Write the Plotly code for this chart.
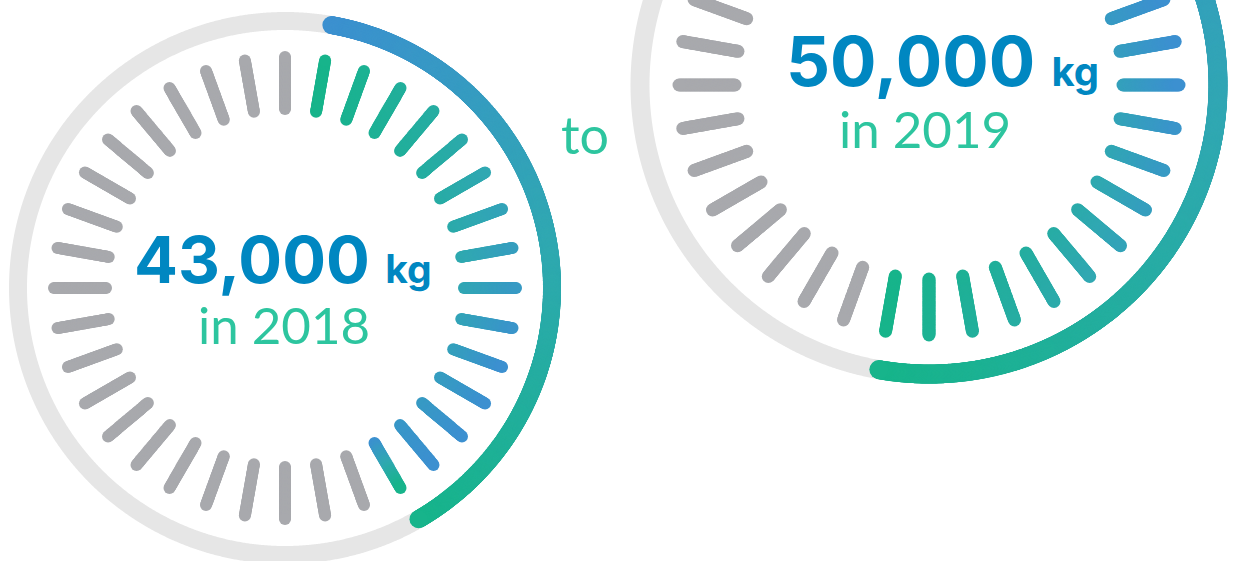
import math
import plotly.graph_objects as go

# ---------------- data ----------------
years = ["2018", "2019"]
amounts_kg = [43000, 50000]
unit_label = "kg"
connector_word = "to"
tick_count = 36               # dashes around each dial
filled_ticks = [15, 19]       # highlighted dashes (clockwise, starting one step after the top)

# ---------------- styling / geometry ----------------
W, H = 1235, 561
GREY_RING = "#e6e6e6"
GREY_TICK = "#a8a9ad"
BLUE_TEXT = "#0087c1"
GREEN_TEXT = "#2dc59f"
GREEN = (23, 180, 139)
TEAL = (48, 168, 178)
BLUE = (60, 144, 208)

gauges = [
    dict(cx=285, cy=288, ring_r=267, ring_w=18, t0=179, t1=231, tick_w=12,
         green_at_start=True, reverse_last=True, num_size=65, kg_size=39,
         txt_x=283, num_y=259, sub_x=284, sub_y=324),
    dict(cx=929, cy=85, ring_r=289, ring_w=19, t0=194, t1=250, tick_w=13,
         green_at_start=False, reverse_last=False, num_size=69, kg_size=40,
         txt_x=942, num_y=61, sub_x=925, sub_y=128),
]


def lerp3(t, a, b, c):
    t = max(0.0, min(1.0, t))
    if t < 0.5:
        u = t / 0.5
        p, q = a, b
    else:
        u = (t - 0.5) / 0.5
        p, q = b, c
    r = [round(p[i] + (q[i] - p[i]) * u) for i in range(3)]
    return f"rgb({r[0]},{r[1]},{r[2]})"


def polar(cx, cy, r, deg):
    a = math.radians(deg)
    return cx + r * math.sin(a), cy - r * math.cos(a)


fig = go.Figure()
step_deg = 360 / tick_count

for g, nfill, amount, year in zip(gauges, filled_ticks, amounts_kg, years):
    cx, cy = g["cx"], g["cy"]
    # full grey ring
    xs, ys = [], []
    for k in range(1441):
        x, y = polar(cx, cy, g["ring_r"], k * 0.25)
        xs.append(x); ys.append(y)
    fig.add_trace(go.Scatter(x=xs, y=ys, mode="lines",
                             line=dict(color=GREY_RING, width=g["ring_w"], simplify=False),
                             hoverinfo="skip"))
    # coloured progress arc (blue -> green)
    a0 = step_deg
    a1 = step_deg * nfill
    n = int(g["ring_r"] * math.radians(a1 - a0) / 0.8)
    xs, ys, cs = [], [], []
    for k in range(n + 1):
        p = k / n
        x, y = polar(cx, cy, g["ring_r"], a0 + (a1 - a0) * p)
        xs.append(x); ys.append(y)
        cs.append(lerp3(1 - p, GREEN, TEAL, BLUE))
    fig.add_trace(go.Scatter(x=xs, y=ys, mode="markers",
                             marker=dict(size=g["ring_w"], color=cs, line=dict(width=0)),
                             hoverinfo="skip"))
    # dashes
    xs, ys, cs = [], [], []
    npts = 45
    for i in range(tick_count):
        ang = i * step_deg
        filled = 1 <= i <= nfill
        if filled:
            if g["green_at_start"]:
                q = (i - 1) / (nfill - 2)
            else:
                q = (nfill - i) / (nfill - 6)
            q = max(0.0, min(1.0, q))
            t_in, t_out = q * 0.85, min(1.0, q * 1.3)
            if g["reverse_last"] and i == nfill:
                t_in, t_out = 1.0, 0.0
        for k in range(npts):
            u = k / (npts - 1)
            x, y = polar(cx, cy, g["t0"] + (g["t1"] - g["t0"]) * u, ang)
            xs.append(x); ys.append(y)
            cs.append(lerp3(t_in + (t_out - t_in) * u, GREEN, TEAL, BLUE) if filled else GREY_TICK)
    fig.add_trace(go.Scatter(x=xs, y=ys, mode="markers",
                             marker=dict(size=g["tick_w"], color=cs, line=dict(width=0)),
                             hoverinfo="skip"))
    # texts
    fig.add_annotation(x=g["txt_x"], y=g["num_y"], xref="x", yref="y",
                       text=f"{amount:,} <span style='font-size:{g['kg_size']}px'>{unit_label}</span>",
                       showarrow=False, xanchor="center", yanchor="middle",
                       font=dict(family="Inter", size=g["num_size"], color=BLUE_TEXT, weight=700))
    fig.add_annotation(x=g["sub_x"], y=g["sub_y"], xref="x", yref="y",
                       text=f"in {year}", showarrow=False, xanchor="center", yanchor="middle",
                       font=dict(family="Lato", size=51, color=GREEN_TEXT))

fig.add_annotation(x=585, y=134, xref="x", yref="y", text=connector_word, showarrow=False,
                   xanchor="center", yanchor="middle",
                   font=dict(family="Lato", size=52, color=GREEN_TEXT))

fig.update_xaxes(range=[0, W], visible=False, fixedrange=True)
fig.update_yaxes(range=[H, 0], visible=False, fixedrange=True)
fig.update_layout(width=W, height=H, margin=dict(l=0, r=0, t=0, b=0),
                  paper_bgcolor="white", plot_bgcolor="white", showlegend=False)

fig.write_html("out.html")
